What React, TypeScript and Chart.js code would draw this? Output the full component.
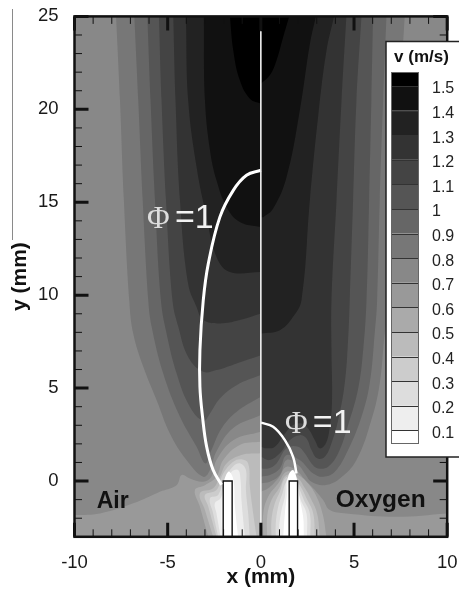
import React, { useEffect, useRef } from "react";
import { Chart, registerables } from "chart.js";

Chart.register(...registerables);

type P = number[];

// Contour boundaries (x mm, y mm), left half: air side
const leftC888: P[] = [[-10,-1.83],[-8.63,-1.74],[-6.85,-1.2],[-5.42,-.57],[-4.52,-.22],[-4.25,.32],[-3.81,.14],[-3.09,-.04],[-2.65,.23],[-2.38,1.13],[-1.48,2.2],[0,2.65]];
const leftC777: P[] = [[-7.77,25],[-7.56,20.5],[-7.35,15.1],[-7.06,9.7],[-6.85,7.94],[-6.31,6.15],[-5.59,4.35],[-4.88,2.56],[-3.99,1.13],[-3.09,.23],[-2.73,.6],[-2.38,1.6],[-1.48,2.85],[0,3.55]];
const leftC666: P[] = [[-6.79,25],[-6.58,20.5],[-6.34,15.1],[-6.04,9.7],[-5.86,8.3],[-5.24,5.79],[-4.34,3.46],[-3.45,1.85],[-2.97,.95],[-2.65,1.67],[-2.11,2.83],[-1.3,3.73],[0,4.53]];
const leftC555: P[] = [[-6.09,25],[-5.92,20.5],[-5.68,15.1],[-5.36,9.7],[-5.06,7.94],[-4.52,5.79],[-3.81,4.0],[-3.09,3.24],[-2.73,3.64],[-2.2,4.44],[-1.3,5.16],[0,5.7]];
const leftC444: P[] = [[-5.47,25],[-5.33,20.5],[-5.09,15.1],[-4.74,9.7],[-4.43,8.3],[-3.9,6.68],[-3.09,5.88],[-2.38,5.97],[-1.3,6.33],[0,6.77]];
const leftC333: P[] = [[-4.7,25],[-4.58,20.5],[-4.34,15.1],[-3.9,10.6],[-3.45,9.37],[-3.09,8.66],[-2.2,8.48],[-1.13,8.66],[0,9.01]];
const leftC222: P[] = [[-4.02,25],[-3.9,20.5],[-3.45,16.9],[-2.91,14.2],[-2.38,12.06],[-1.66,11.25],[0,11.25]];
const leftC111: P[] = [[-3.06,25],[-3,20.5],[-2.73,17.8],[-2.38,16.18],[-1.84,14.75],[-1.13,13.94],[0,13.67]];
const leftC000: P[] = [[-1.66,25],[-1.48,23.17],[-1.13,21.56],[-.59,20.57],[0,20.3]];
const leftCaaa: P[] = [[-2.82,-3],[-3.27,-1.38],[-3.54,-.48],[-3,-.22],[-2.38,.23],[-2.02,1.13],[-1.13,1.94],[0,2.11]];
const leftCbbb: P[] = [[-2.56,-3],[-3,-1.56],[-3.27,-.66],[-2.56,-.39],[-2.2,.23],[-1.84,.95],[-1.04,1.4],[0,1.49]];
const leftCccc: P[] = [[-2.38,-3],[-2.82,-1.38],[-3,-.75],[-2.38,-.48],[-2.02,.41],[-1.48,1.04],[-1.04,1.17],[-.68,.95],[-.59,-.3],[-.41,-1.74],[-.23,-3]];
const leftCddd: P[] = [[-2.29,-3],[-2.56,-1.74],[-2.73,-.93],[-2.29,-.75],[-1.98,.05],[-1.48,.8],[-1.09,.95],[-.8,.59],[-.8,-.48],[-.68,-1.74],[-.59,-3]];
const leftCeee: P[] = [[-2.16,-3],[-2.38,-1.74],[-2.47,-1.2],[-2.16,-.93],[-1.93,-.13],[-1.57,.5],[-1.22,.59],[-1.09,.05],[-1.04,-1.02],[-.86,-3]];
const leftCfff: P[] = [[-2.06,-3],[-2.11,-1.92],[-2.02,-.3],[-1.75,.5],[-1.48,.1],[-1.39,-1.38],[-1.22,-3]];

// Contour boundaries, right half: oxygen side
const rightC888: P[] = [[10,-1.74],[7.27,-1.92],[4.59,-1.74],[3.7,-1.56],[3.34,-1.02],[2.81,-.39],[2.36,.05],[2,.5],[1.38,.77],[.93,.14],[.39,-.39],[0,-.57]];
const rightC777: P[] = [[7.72,25],[7.45,20.48],[7.19,15.11],[6.92,9.73],[6.65,7.94],[6.38,5.25],[5.93,3.28],[5.13,1.13],[4.24,.14],[3.43,-.22],[2.72,-.04],[2.36,.41],[2,.86],[1.38,1.13],[1.02,.32],[.48,-.04],[0,-.13]];
const rightC666: P[] = [[6.74,25],[6.56,20.48],[6.38,15.11],[6.24,9.73],[6.11,7.94],[5.84,5.25],[5.4,3.46],[4.68,1.67],[3.97,.5],[3.34,.23],[2.81,.41],[2.45,.77],[2.09,1.13],[1.38,1.4],[1.02,.68],[.48,.32],[0,.23]];
const rightC555: P[] = [[6.02,25],[5.93,20.48],[5.81,15.11],[5.67,9.73],[5.49,7.04],[5.22,4.96],[4.68,3],[4.15,1.49],[3.61,.77],[3.07,.68],[2.72,.95],[2.36,1.49],[2,1.85],[1.38,1.76],[.84,.95],[.39,.68],[0,.68]];
const rightC444: P[] = [[5.4,25],[5.13,20.48],[4.95,15.11],[4.77,9.73],[4.68,7.58],[4.5,5.25],[4.15,3.28],[3.79,2.03],[3.43,1.31],[3.02,1.22],[2.72,1.67],[2.45,2.29],[2.09,2.47],[1.55,2.2],[1.02,1.49],[.48,1.13],[0,1.31]];
const rightC333: P[] = [[4.59,25],[4.33,20.48],[4.06,15.11],[3.79,9.73],[3.79,7.04],[3.82,4.35],[3.7,2.92],[3.49,2.03],[3.16,1.76],[2.9,2.2],[2.54,2.83],[2.18,3.1],[1.73,3.01],[1.29,2.56],[.75,1.85],[.3,1.76],[0,1.85]];
const rightC222: P[] = [[3.93,25],[3.52,23.15],[3.07,19.57],[2.63,15.11],[2.18,9.73],[1.73,8.84],[1.02,8.12],[0,7.94]];
const rightC111: P[] = [[2.95,25],[2.63,23.51],[2.09,19.94],[1.38,16.36],[.66,14.66],[.13,14.2],[0,14.2]];
const rightC000: P[] = [[1.52,25],[1.2,23.89],[.84,22.63],[.48,21.83],[0,21.38]];
const rightCaaa: P[] = [[3.52,-3],[3.31,-1.74],[2.9,-.66],[2.45,-.04],[2,.32],[1.38,.5],[.93,-.13],[.39,-.84],[.13,-1.74],[.13,-3]];
const rightCbbb: P[] = [[3.16,-3],[3.02,-1.74],[2.63,-.84],[2.31,-.3],[2,.14],[1.38,.32],[.98,-.39],[.57,-1.02],[.34,-1.92],[.34,-3]];
const rightCccc: P[] = [[2.9,-3],[2.81,-1.74],[2.45,-.93],[2.13,-.3],[1.73,.23],[1.29,.14],[1.02,-.57],[.75,-1.2],[.57,-2.1],[.57,-3]];
const rightCddd: P[] = [[2.66,-3],[2.63,-1.74],[2.31,-1.02],[2.04,-.39],[1.73,.05],[1.38,-.04],[1.16,-.66],[.93,-1.38],[.8,-2.28],[.8,-3]];
const rightCeee: P[] = [[2.48,-3],[2.45,-1.74],[2.14,-1.02],[1.97,-.39],[1.73,.3],[1.41,.1],[1.29,-.84],[1.11,-1.56],[.98,-2.46],[.98,-3]];
const rightCfff: P[] = [[2.31,-3],[2.27,-1.92],[2.06,-.84],[1.97,-.04],[1.73,.59],[1.48,.3],[1.41,-.66],[1.29,-1.74],[1.2,-3]];

// Line marks and nozzles
const flameAir: P[] = [[0,16.72],[-.77,16.45],[-1.48,15.64],[-2.2,14.2],[-2.82,11.7],[-3.09,9.73],[-3.27,7.04],[-3.27,5.07],[-3.13,3.46],[-2.91,1.85],[-2.56,.59],[-2.11,-.2]];
const flameOxygen: P[] = [[0,3.14],[.66,2.92],[1.29,2.2],[1.73,1.3],[1.91,.41]];
const centerLine: P[] = [[0,-2.3],[0,24.2]];
const nozzleAir: P[] = [[-2.02,-3],[-2.02,0],[-1.54,0],[-1.54,-3]];
const nozzleOxygen: P[] = [[1.52,-3],[1.52,0],[1.97,0],[1.97,-3]];

// Legend
const legendTitle = "v (m/s)";
const legendLabels = ["1.5","1.4","1.3","1.2","1.1","1","0.9","0.8","0.7","0.6","0.5","0.4","0.3","0.2","0.1"];
const legendColors = ["#000000","#111111","#222222","#333333","#444444","#555555","#666666","#777777","#888888","#999999","#aaaaaa","#bbbbbb","#cccccc","#dddddd","#eeeeee","#ffffff"];

const xTitle = "x (mm)";
const yTitle = "y (mm)";

const SANS = '"Liberation Sans", Arial, sans-serif';

function closed(curve: P[], corners: P[]) {
  const pts = [curve[0], ...curve, curve[curve.length - 1], ...corners.flatMap((c) => [c, c])];
  return pts.map(([x, y]) => ({ x, y }));
}
const pts = (a: P[]) => a.map(([x, y]) => ({ x, y }));

const LT: P[] = [[0, 25]];
const RT: P[] = [[0, 25]];
const regions: [P[], P[], string][] = [
  [[[-10,-3],[-10,25]], [[0,25],[0,-3]], "#999999"],
  [leftC888, [[0,25],[-10,25]], "#888888"],
  [leftC777, LT, "#777777"],
  [leftC666, LT, "#666666"],
  [leftC555, LT, "#555555"],
  [leftC444, LT, "#444444"],
  [leftC333, LT, "#333333"],
  [leftC222, LT, "#222222"],
  [leftC111, LT, "#111111"],
  [leftC000, LT, "#000000"],
  [leftCaaa, [[0,-3]], "#aaaaaa"],
  [leftCbbb, [[0,-3]], "#bbbbbb"],
  [leftCccc, [], "#cccccc"],
  [leftCddd, [], "#dddddd"],
  [leftCeee, [], "#eeeeee"],
  [leftCfff, [], "#ffffff"],
  [[[0,-3],[0,25]], [[10,25],[10,-3]], "#999999"],
  [rightC888, [[0,25],[10,25]], "#888888"],
  [rightC777, RT, "#777777"],
  [rightC666, RT, "#666666"],
  [rightC555, RT, "#555555"],
  [rightC444, RT, "#444444"],
  [rightC333, RT, "#333333"],
  [rightC222, RT, "#222222"],
  [rightC111, RT, "#111111"],
  [rightC000, RT, "#000000"],
  [rightCaaa, [], "#aaaaaa"],
  [rightCbbb, [], "#bbbbbb"],
  [rightCccc, [], "#cccccc"],
  [rightCddd, [], "#dddddd"],
  [rightCeee, [], "#eeeeee"],
  [rightCfff, [], "#ffffff"],
];

const overlay = {
  id: "overlay",
  afterDraw(chart: any) {
    const { ctx, chartArea: a, scales } = chart;
    const x = scales.x, y = scales.y;
    ctx.save();
    // stray rule at far left
    ctx.strokeStyle = "#8a8a8a";
    ctx.lineWidth = 1;
    ctx.beginPath(); ctx.moveTo(12.5, 9); ctx.lineTo(12.5, 240); ctx.stroke();
    // ticks on all four sides
    ctx.strokeStyle = "#111";
    for (let v = -10; v <= 10; v++) {
      const major = v % 5 === 0;
      const len = major ? 14 : 7.5;
      ctx.lineWidth = major ? 3 : 1;
      const px = x.getPixelForValue(v);
      ctx.beginPath(); ctx.moveTo(px, a.bottom); ctx.lineTo(px, a.bottom - len);
      ctx.moveTo(px, a.top); ctx.lineTo(px, a.top + len); ctx.stroke();
    }
    for (let v = -3; v <= 25; v++) {
      const major = v % 5 === 0;
      const len = major ? 14 : 7.5;
      ctx.lineWidth = major ? 3 : 1;
      const py = y.getPixelForValue(v);
      ctx.beginPath(); ctx.moveTo(a.left, py); ctx.lineTo(a.left + len, py);
      ctx.moveTo(a.right, py); ctx.lineTo(a.right - len, py); ctx.stroke();
    }
    // frame
    ctx.strokeStyle = "#111";
    ctx.lineWidth = 2.5;
    ctx.strokeRect(a.left, a.top, a.right - a.left, a.bottom - a.top);
    // annotations
    ctx.textBaseline = "alphabetic";
    ctx.textAlign = "left";
    ctx.fillStyle = "#111";
    ctx.font = `bold 23px ${SANS}`;
    ctx.fillText("Air", x.getPixelForValue(-8.81), y.getPixelForValue(-1.47));
    ctx.font = `bold 24.5px ${SANS}`;
    ctx.fillText("Oxygen", x.getPixelForValue(4.02), y.getPixelForValue(-1.38));
    const phi = (px: number, py: number, qx: number) => {
      ctx.font = `31px "Liberation Serif", serif`;
      ctx.fillStyle = "#dddddd";
      ctx.fillText("Φ", x.getPixelForValue(px), y.getPixelForValue(py));
      ctx.font = `34px ${SANS}`;
      ctx.fillStyle = "#f2f2f2";
      ctx.fillText("=1", x.getPixelForValue(qx), y.getPixelForValue(py));
    };
    phi(-6.11, 13.62, -4.61);
    phi(1.29, 2.56, 2.79);
    // legend
    const L = 386, T = 41.5, B = 457;
    ctx.fillStyle = "#fff";
    ctx.fillRect(L, T, 459 - L + 5, B - T);
    ctx.strokeStyle = "#222";
    ctx.lineWidth = 1.5;
    ctx.strokeRect(L, T, 459 - L + 5, B - T);
    ctx.fillStyle = "#111";
    ctx.textAlign = "center";
    ctx.font = `bold 17px ${SANS}`;
    ctx.fillText(legendTitle, 421.5, 62);
    const sx = 392, sw = 26, top = 73, first = 86, step = 24.6, bottom = 443;
    legendColors.forEach((c, i) => {
      const y0 = i === 0 ? top : first + (i - 1) * step;
      const y1 = i === legendColors.length - 1 ? bottom : first + i * step;
      ctx.fillStyle = c;
      ctx.fillRect(sx, y0, sw, y1 - y0);
    });
    ctx.strokeStyle = "#333";
    ctx.lineWidth = 1;
    legendLabels.forEach((_, i) => {
      const ly = Math.round(first + i * step) + 0.5;
      ctx.beginPath(); ctx.moveTo(sx, ly); ctx.lineTo(sx + sw, ly); ctx.stroke();
    });
    ctx.strokeStyle = "#666";
    ctx.strokeRect(sx - 0.5, top - 0.5, sw + 1, bottom - top + 1);
    ctx.fillStyle = "#222";
    ctx.textAlign = "left";
    ctx.textBaseline = "middle";
    ctx.font = `16px ${SANS}`;
    legendLabels.forEach((t, i) => {
      ctx.fillText(t, 432, first + i * step + 3);
    });
    ctx.restore();
  },
};

export default function App() {
  const ref = useRef<HTMLCanvasElement>(null);
  useEffect(() => {
    const n = regions.length;
    const datasets: any[] = regions.map(([curve, corners, color], i) => ({
      data: closed(curve, corners),
      fill: "shape",
      backgroundColor: color,
      borderWidth: 0,
      pointRadius: 0,
      showLine: true,
      tension: 0.4,
      order: 1000 - i,
    }));
    const nozzle = (d: P[], k: number) => ({
      data: pts(d), fill: "shape", backgroundColor: "#fff", borderColor: "#111", borderWidth: 1.4,
      pointRadius: 0, showLine: true, tension: 0, order: 10 - k,
    });
    const lineSet = (d: P[], w: number, k: number, col = "#fff") => ({
      data: pts(d), fill: false, borderColor: col, borderWidth: w, pointRadius: 0,
      showLine: true, tension: 0.4, order: 5 - k,
    });
    datasets.push(nozzle(nozzleAir, 0), nozzle(nozzleOxygen, 1));
    datasets.push(lineSet(flameAir, 3, 0), lineSet(flameOxygen, 2.5, 1), lineSet(centerLine, 1.6, 2, "#f0f0f0"));

    const chart = new Chart(ref.current!, {
      type: "scatter",
      data: { datasets },
      plugins: [overlay],
      options: {
        animation: false,
        responsive: false,
        layout: { padding: { left: 0, right: 459 - 447.2, top: 16.4, bottom: 0 } },
        plugins: { legend: { display: false }, tooltip: { enabled: false } },
        scales: {
          x: {
            type: "linear", min: -10, max: 10,
            grid: { display: false }, border: { display: false },
            afterFit: (s: any) => { s.height = 590 - 536.8; s.paddingLeft = 0; s.paddingRight = 0; },
            ticks: {
              stepSize: 1, autoSkip: false, maxRotation: 0, padding: 7, color: "#1a1a1a",
              font: { size: 18.5, family: SANS },
              callback: (v: any) => (Number(v) % 5 === 0 ? String(v) : ""),
            },
            title: { display: true, text: xTitle, color: "#111", font: { size: 21, weight: "bold", family: SANS }, padding: { top: 0, bottom: 0 } },
          },
          y: {
            type: "linear", min: -3, max: 25,
            grid: { display: false }, border: { display: false },
            afterFit: (s: any) => { s.width = 74.5; s.paddingTop = 0; s.paddingBottom = 0; },
            ticks: {
              stepSize: 1, autoSkip: false, padding: 8, color: "#1a1a1a",
              font: { size: 18.5, family: SANS },
              callback: (v: any) => (Number(v) % 5 === 0 ? String(v) : ""),
            },
            title: { display: true, text: yTitle, color: "#111", font: { size: 21, weight: "bold", family: SANS }, padding: { top: 8, bottom: 0 } },
          },
        },
      } as any,
    });
    return () => chart.destroy();
  }, []);
  return (
    <canvas
      ref={ref}
      width={459}
      height={590}
      style={{ position: "absolute", left: 0, top: 0, display: "block", width: 459, height: 590 }}
    />
  );
}
